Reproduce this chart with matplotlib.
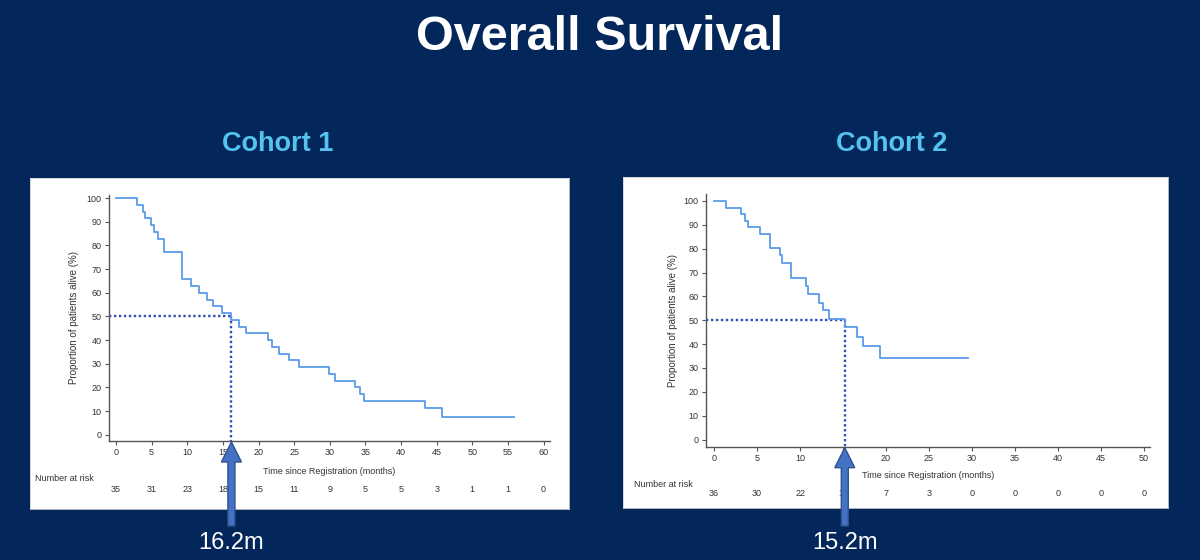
import matplotlib
matplotlib.use("Agg")
import matplotlib.pyplot as plt
from matplotlib.patches import Polygon

plt.rcParams['font.family'] = ['Liberation Sans', 'DejaVu Sans']

# ---------------- data ----------------
title = "Overall Survival"
cohort_names = ["Cohort 1", "Cohort 2"]

c1_times = [0, 3.0, 3.85, 4.1, 4.93, 5.4, 5.87, 6.7, 9.25, 10.5, 11.6, 12.8, 13.6,
            14.9, 16.2, 17.2, 18.2, 21.3, 21.9, 22.9, 24.3, 25.7, 29.9, 30.7, 33.5,
            34.25, 34.8, 43.4, 45.8, 55.9]
c1_surv = [100, 97.1, 94.3, 91.4, 88.6, 85.7, 82.9, 77.1, 65.7, 62.9, 60.0, 57.1, 54.3,
           51.4, 48.6, 45.7, 42.9, 40.0, 37.1, 34.3, 31.4, 28.6, 25.7, 22.9, 20.0,
           17.1, 14.3, 11.4, 7.6, 7.6]
c1_median = 16.2
c1_ticks = [0, 5, 10, 15, 20, 25, 30, 35, 40, 45, 50, 55, 60]
c1_risk = ["35", "31", "23", "18", "15", "11", "9", "5", "5", "3", "1", "1", "0"]

c2_times = [0, 1.36, 3.1, 3.65, 4.0, 5.36, 6.56, 7.65, 7.84, 8.9, 10.7, 10.95, 12.2,
            12.7, 13.4, 15.2, 16.6, 17.3, 19.3, 29.5]
c2_surv = [100, 97.2, 94.4, 91.7, 88.9, 86.1, 80.3, 77.2, 74.0, 67.7, 64.2, 60.8, 57.3,
           54.2, 50.5, 47.0, 43.1, 39.2, 34.3, 34.3]
c2_median = 15.2
c2_ticks = [0, 5, 10, 15, 20, 25, 30, 35, 40, 45, 50]
c2_risk = ["36", "30", "22", "14", "7", "3", "0", "0", "0", "0", "0"]

y_ticks = [0, 10, 20, 30, 40, 50, 60, 70, 80, 90, 100]

# ---------------- style ----------------
BG = "#03275A"
CYAN = "#55C3EE"
LINE = "#5A9BE8"
MED = "#2F4FB5"
AX = "#555555"
TXT = "#333333"
ARROW_FACE = "#4472C4"
ARROW_EDGE = "#2F528F"

W, H = 1200, 560
fig = plt.figure(figsize=(W / 100, H / 100), dpi=100, facecolor=BG)


def px(x0, y0, x1, y1):
    """pixel box (top-left origin) -> figure fraction rect"""
    return [x0 / W, 1 - y1 / H, (x1 - x0) / W, (y1 - y0) / H]


# white panels
for rect in (px(30, 178, 569, 509), px(623, 177, 1168, 508)):
    pa = fig.add_axes(rect, zorder=0)
    pa.set_facecolor("white")
    pa.set_xticks([]); pa.set_yticks([])
    for s in pa.spines.values():
        s.set_color("#d0d0d0"); s.set_linewidth(0.6)

fig.text(0.5, 1 - 38 / H, title, color="white", fontsize=35, fontweight="bold",
         ha="center", va="center")
fig.text(278 / W, 1 - 144 / H, cohort_names[0], color=CYAN, fontsize=19.5,
         fontweight="bold", ha="center", va="center")
fig.text(892 / W, 1 - 144 / H, cohort_names[1], color=CYAN, fontsize=19.5,
         fontweight="bold", ha="center", va="center")

specs = [
    dict(rect=px(108.5, 195, 550, 441), xlim=(-1.05, 60.9), ylim=(-2.6, 101.3),
         t=c1_times, s=c1_surv, med=c1_median, ticks=c1_ticks, risk=c1_risk,
         xlab_y=-0.106, nar=(-0.166, -0.154), risk_y=-0.199, ylab_x=-0.067),
    dict(rect=px(705.5, 194, 1150, 446.7), xlim=(-1.0, 50.7), ylim=(-3.0, 102.9),
         t=c2_times, s=c2_surv, med=c2_median, ticks=c2_ticks, risk=c2_risk,
         xlab_y=-0.096, nar=(-0.161, -0.148), risk_y=-0.187, ylab_x=-0.062),
]

axes = []
for sp in specs:
    ax = fig.add_axes(sp["rect"], zorder=2)
    ax.patch.set_alpha(0)
    ax.step(sp["t"], sp["s"], where="post", color=LINE, lw=1.3, zorder=3)
    ax.plot([sp["xlim"][0], sp["med"]], [50, 50], color=MED, lw=1.7, ls=(0, (1, 1.1)), zorder=2)
    ax.plot([sp["med"], sp["med"]], [50, sp["ylim"][0]], color=MED, lw=1.7,
            ls=(0, (1, 1.1)), zorder=2)
    ax.set_xlim(*sp["xlim"]); ax.set_ylim(*sp["ylim"])
    ax.set_xticks(sp["ticks"]); ax.set_yticks(y_ticks)
    for side in ("top", "right"):
        ax.spines[side].set_visible(False)
    for side in ("left", "bottom"):
        ax.spines[side].set_color(AX); ax.spines[side].set_linewidth(1.0)
    ax.tick_params(axis="both", direction="out", length=3, width=0.8, color=AX,
                   labelsize=6.5, labelcolor=TXT, pad=2)
    ax.set_xlabel("Time since Registration (months)", fontsize=6.5, color=TXT)
    ax.xaxis.set_label_coords(0.5, sp["xlab_y"])
    ax.set_ylabel("Proportion of patients alive (%)", fontsize=7, color=TXT)
    ax.yaxis.set_label_coords(sp["ylab_x"], 0.5)
    ax.text(sp["nar"][0], sp["nar"][1], "Number at risk", transform=ax.transAxes,
            fontsize=6.5, color=TXT, ha="left", va="center")
    tr = ax.get_xaxis_transform()
    for xv, lab in zip(sp["ticks"], sp["risk"]):
        ax.text(xv, sp["risk_y"], lab, transform=tr, fontsize=6.5, color=TXT,
                ha="center", va="center")
    axes.append(ax)

# overlay for the median arrows (pixel coordinates, y up)
ov = fig.add_axes([0, 0, 1, 1], zorder=10)
ov.set_xlim(0, W); ov.set_ylim(0, H)
ov.axis("off")
ov.patch.set_alpha(0)
for ax, sp in zip(axes, specs):
    tx, ty = ax.transData.transform((sp["med"], sp["ylim"][0]))
    ty -= 1
    head_len, head_hw, shaft_hw = 20, 10, 3.5
    base = H - 526
    pts = [(tx, ty), (tx + head_hw, ty - head_len), (tx + shaft_hw, ty - head_len),
           (tx + shaft_hw, base), (tx - shaft_hw, base), (tx - shaft_hw, ty - head_len),
           (tx - head_hw, ty - head_len)]
    ov.add_patch(Polygon(pts, closed=True, facecolor=ARROW_FACE, edgecolor=ARROW_EDGE, lw=1))
    ov.text(tx, H - 543, f"{sp['med']}m", color="white", fontsize=17,
            ha="center", va="center")

fig.savefig("out.png", dpi=100, facecolor=BG)
